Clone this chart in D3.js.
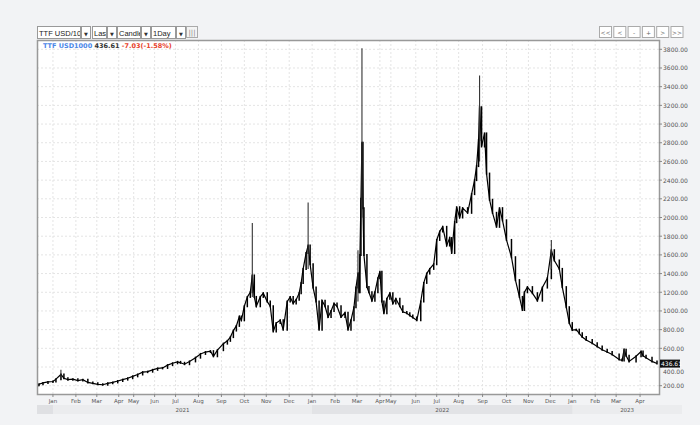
<!DOCTYPE html>
<html><head><meta charset="utf-8">
<script src="https://cdn.jsdelivr.net/npm/d3@7"></script>
<style>body{margin:0;background:#f2f3f5;}svg{display:block;font-family:"DejaVu Sans",sans-serif;}</style>
</head><body><svg id="c" width="700" height="425"></svg>
<script>
// bar index (trading session), close
const barIdx = [0,1,5,10,15,18,23,26,30,35,40,45,50,55,60,65,70,75,80,85,90,95,100,105,110,115,120,125,130,135,140,143,147,152,158,163,168,173,176,180,186,190,193,196,199,202,204,207,210,213,215,217,219,223,226,230,233,236,239,243,246,250,253,256,259,262,264,266,269,271,273,276,279,282,285,288,291,294,297,300,304,308,311,314,317,319,321,322,323,324,325,326,327,330,332,335,338,341,343,345,347,350,353,356,359,363,366,370,373,376,380,384,387,390,393,397,400,403,406,410,413,415,418,420,423,426,431,435,438,440,442,443,445,448,450,453,456,460,463,466,470,475,479,483,486,488,491,496,501,506,511,515,518,523,526,530,533,536,540,543,546,550,556,561,566,571,576,583,586,588,590,593,600,605,607,610,616,621];
const closes = [205,215,230,240,245,270,320,280,265,270,255,265,235,225,215,210,225,235,250,265,280,300,320,345,350,370,385,390,420,440,455,445,430,460,500,540,560,570,515,580,650,680,720,790,840,940,900,1050,1150,1200,1380,1150,1050,1150,1190,1100,1050,780,870,900,800,1100,1150,1080,1120,1190,1300,1450,1620,1700,1500,1250,1100,800,1110,1050,935,1000,1080,1050,935,980,800,900,1040,1250,1400,1200,1600,2200,2800,2100,1600,1255,1200,1110,1200,1350,1420,1100,975,1130,1190,1080,1130,1050,990,975,950,930,900,1100,1300,1400,1450,1500,1760,1850,1900,1700,1780,1620,1950,2110,2000,2100,2050,2250,2400,2550,2830,3180,2760,2900,2470,2190,2050,1900,2100,1970,1760,1575,1330,1150,1010,1200,1255,1190,1110,1250,1350,1650,1540,1450,1255,1040,870,795,800,760,720,690,655,620,585,560,535,480,470,585,520,460,515,565,520,500,460,437];
const spikeIdx = [23,215,271,321,325,443,515,588];
const spikeHigh = [370,1940,2160,1650,3810,3520,1760,600];
const spikeLow  = [260,1150,1450,1100,2000,2600,1450,470];
const monthLabels = ["Jan","Feb","Mar","Apr","May","Jun","Jul","Aug","Sep","Oct","Nov","Dec","Jan","Feb","Mar","Apr","May","Jun","Jul","Aug","Sep","Oct","Nov","Dec","Jan","Feb","Mar","Apr"];
const monthIdx = [15,38,59,81,96,117,138,161,184,207,229,252,275,298,320,343,354,379,400,422,446,470,492,514,536,559,580,604];
const years = ["2021","2022","2023"];
const yearStart = [15,275,536];
const yTicks = [200,400,600,800,1000,1200,1400,1600,1800,2000,2200,2400,2600,2800,3000,3200,3400,3600,3800];
const lastPrice = 436.61;

const svg = d3.select("#c");
const defs = svg.append("defs");
const L=37,R=659,T=40,B=394;
const x = d3.scaleLinear().domain([0,621]).range([L+1,R-2]);
const y = d3.scaleLinear().domain([200,3800]).range([385.7,49.3]);

// toolbar
const tb = [["TTF USD/100",37,43],["Last",92,14],["Candle",117,23],["1Day",151,24]];
tb.forEach(([t,x0,w],i)=>{
  defs.append("clipPath").attr("id","cp"+i).append("rect").attr("x",x0+1).attr("y",26).attr("width",w-1).attr("height",13);
  svg.append("rect").attr("x",x0+0.5).attr("y",26.5).attr("width",w).attr("height",12).attr("fill","#fff").attr("stroke","#999");
  svg.append("text").attr("clip-path","url(#cp"+i+")").attr("x",x0+2).attr("y",35.5).attr("font-size",7.5).attr("font-family","Liberation Sans, Arial").attr("fill","#222").text(t);
  svg.append("rect").attr("x",x0+w+1.5).attr("y",26.5).attr("width",9).attr("height",12).attr("fill","#fff").attr("stroke","#999");
  svg.append("text").attr("x",x0+w+6).attr("y",35.5).attr("font-size",5).attr("text-anchor","middle").attr("fill","#333").text("▼");
});
svg.append("rect").attr("x",186.5).attr("y",26.5).attr("width",11).attr("height",11).attr("fill","#f4f4f4").attr("stroke","#aaa");
svg.append("text").attr("x",192).attr("y",35).attr("font-size",7).attr("text-anchor","middle").attr("fill","#888").text("|||");
["<<","<","-","+",">",">>"].forEach((t,i)=>{
  const bx=599+i*14.3;
  svg.append("rect").attr("x",bx+0.5).attr("y",26.5).attr("width",12).attr("height",11).attr("fill","#fff").attr("stroke","#aaa");
  svg.append("text").attr("x",bx+6.5).attr("y",34.5).attr("font-size",6).attr("text-anchor","middle").attr("fill","#666").text(t);
});

// plot area
svg.append("rect").attr("x",L).attr("y",T).attr("width",R-L).attr("height",B-T).attr("fill","#fff");
const g = svg.append("g");
monthIdx.forEach(m=>g.append("line").attr("x1",x(m)).attr("x2",x(m)).attr("y1",T).attr("y2",B).attr("stroke","#e4e4e4").attr("stroke-dasharray","2,2"));
yTicks.forEach(v=>g.append("line").attr("x1",L).attr("x2",R).attr("y1",y(v)).attr("y2",y(v)).attr("stroke","#e4e4e4").attr("stroke-dasharray","2,2"));

// candles: body from previous close to close
const bars = barIdx.map((b,i)=>({b,c:closes[i],o:i?closes[i-1]:closes[0]}));
g.append("path").datum(bars).attr("d",d3.line().x(d=>x(d.b)).y(d=>y(d.c))).attr("fill","none").attr("stroke","#000").attr("stroke-width",1.2);
g.selectAll(".bd").data(bars).join("line").attr("x1",d=>x(d.b)).attr("x2",d=>x(d.b))
  .attr("y1",d=>y(Math.max(d.o,d.c))-1).attr("y2",d=>y(Math.min(d.o,d.c))+1).attr("stroke","#000").attr("stroke-width",1.5);
g.selectAll(".sp").data(spikeIdx).join("line").attr("x1",d=>x(d)).attr("x2",d=>x(d))
  .attr("y1",(d,i)=>y(spikeHigh[i])).attr("y2",(d,i)=>y(spikeLow[i])).attr("stroke","#333").attr("stroke-width",1.1);

// frame
svg.append("rect").attr("x",L+0.5).attr("y",T+0.5).attr("width",R-L).attr("height",B-T).attr("fill","none").attr("stroke","#999").attr("stroke-width",1.5);

// y axis labels
yTicks.forEach(v=>{
  svg.append("line").attr("x1",R).attr("x2",R+3).attr("y1",y(v)).attr("y2",y(v)).attr("stroke","#888");
  if (v!==400) svg.append("text").attr("x",R+4).attr("y",y(v)+2.5).attr("font-size",6).attr("fill","#555").text(v.toFixed(2));
});
svg.append("text").attr("x",R+4).attr("y",y(400)+7).attr("font-size",6).attr("fill","#555").text((400).toFixed(2));
svg.append("rect").attr("x",R+1).attr("y",y(lastPrice)-4).attr("width",20).attr("height",8).attr("fill","#111");
svg.append("text").attr("x",R+2).attr("y",y(lastPrice)+2.3).attr("font-size",6).attr("fill","#fff").text(lastPrice.toFixed(2));

// x axis
monthIdx.forEach((m,i)=>{
  svg.append("line").attr("x1",x(m)).attr("x2",x(m)).attr("y1",B).attr("y2",B+3).attr("stroke","#888");
  svg.append("text").attr("x",x(m)).attr("y",403).attr("font-size",5.5).attr("text-anchor","middle").attr("fill","#555").text(monthLabels[i]);
});
svg.append("rect").attr("x",L).attr("y",405).attr("width",682-L).attr("height",9).attr("fill","#dfe0e3");
const yEnd=[275,536,null];
years.forEach((yr,i)=>{
  const x0=x(yearStart[i]), x1=yEnd[i]!==null?x(yEnd[i]):682;
  svg.append("rect").attr("x",x0).attr("y",405).attr("width",x1-x0).attr("height",9).attr("fill",i===1?"#e2e3e6":"#ebecee");
  svg.append("text").attr("x",(x0+x1)/2).attr("y",412).attr("font-size",5.5).attr("text-anchor","middle").attr("fill","#555").text(yr);
});

// header
const h = svg.append("text").attr("x",43).attr("y",48).attr("font-size",6.5).attr("font-weight","bold");
h.append("tspan").attr("fill","#4a86e8").text("TTF USD1000 ");
h.append("tspan").attr("fill","#333").text(lastPrice.toFixed(2)+" ");
h.append("tspan").attr("fill","#e8412b").text("-7.03(-1.58%)");
</script></body></html>
